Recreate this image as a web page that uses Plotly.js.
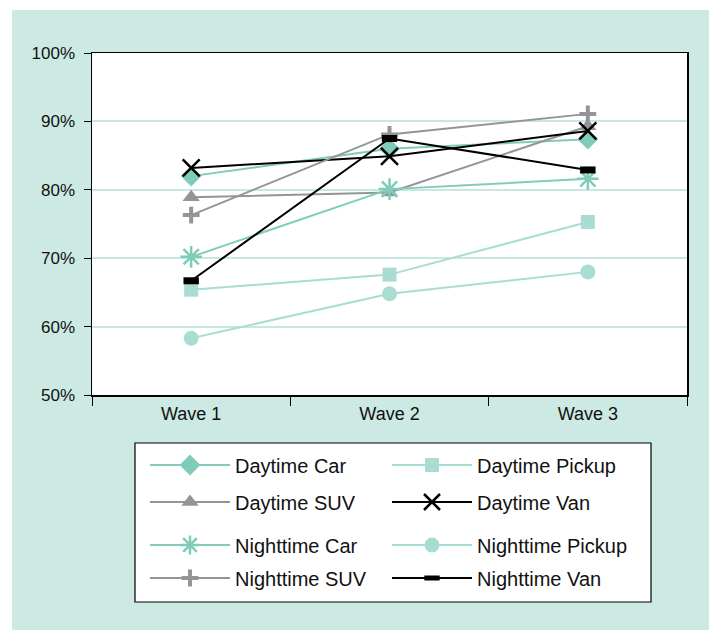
<!DOCTYPE html>
<html>
<head>
<meta charset="utf-8">
<script src="https://cdn.plot.ly/plotly-3.0.1.min.js"></script>
<style>
  html, body { margin: 0; padding: 0; background: #ffffff; }
  #chart { position: absolute; left: 12px; top: 10px; width: 697px; height: 620px; }
</style>
</head>
<body>
<div id="chart"></div>
<script>
// ---- data ----
var waves = ['Wave 1', 'Wave 2', 'Wave 3'];
var daytimeCar      = [82.0, 86.0, 87.4];
var daytimePickup   = [65.4, 67.6, 75.3];
var daytimeSUV      = [78.9, 79.6, 89.3];
var daytimeVan      = [83.2, 84.9, 88.6];
var nighttimeCar    = [70.2, 80.1, 81.6];
var nighttimePickup = [58.3, 64.8, 68.0];
var nighttimeSUV    = [76.3, 88.1, 91.1];
var nighttimeVan    = [66.7, 87.5, 82.9];
var yTickValues = [50, 60, 70, 80, 90, 100];
var yTickLabels = ['50%', '60%', '70%', '80%', '90%', '100%'];

// ---- styles ----
var TEAL = '#7fccba', LIGHT = '#a9ddd3', GRAY = '#939598', BLACK = '#000000';
var FONT = 'Liberation Sans, Arial, sans-serif';

function tr(name, y, color, symbol, size, lw, legendId) {
  return {
    type: 'scatter', mode: 'lines+markers', name: name, x: waves, y: y,
    line: {color: color, width: 2},
    marker: {symbol: symbol, size: size, color: color, line: {color: color, width: lw}},
    legend: legendId, hoverinfo: 'x+y+name'
  };
}

var traces = [
  tr('Daytime Car', daytimeCar, TEAL, 'diamond', 16, 0, 'legend'),
  tr('Daytime Pickup', daytimePickup, LIGHT, 'square', 14, 0, 'legend2'),
  tr('Daytime SUV', daytimeSUV, GRAY, 'triangle-up', 15, 0, 'legend3'),
  tr('Daytime Van', daytimeVan, BLACK, 'x-thin-open', 17, 2.5, 'legend4'),
  tr('Nighttime Car', nighttimeCar, TEAL, 'asterisk-open', 18, 2.5, 'legend5'),
  tr('Nighttime Pickup', nighttimePickup, LIGHT, 'circle', 15, 0, 'legend6'),
  tr('Nighttime SUV', nighttimeSUV, GRAY, 'cross-thin-open', 12, 4, 'legend7'),
  tr('Nighttime Van', nighttimeVan, BLACK, 'line-ew-open', 11, 7, 'legend8')
];

// plot area in div px: x 80..675, y 43..385
function px(xd) { return (xd - 80) / 595; }
function py(yd) { return (385 - yd) / 342; }

function leg(xPage, yPage) {
  return {
    x: px(xPage - 12), y: py(yPage - 10), xanchor: 'left', yanchor: 'middle',
    bgcolor: 'rgba(0,0,0,0)', borderwidth: 0, itemwidth: 80,
    font: {family: FONT, size: 20, color: '#111'}
  };
}
var col1 = 145, col2 = 387;
var rows = [465, 502, 545, 578];

var layout = {
  width: 697, height: 620,
  margin: {l: 80, r: 22, t: 43, b: 235},
  paper_bgcolor: '#cce9e4', plot_bgcolor: '#ffffff',
  font: {family: FONT, color: '#111'},
  showlegend: true,
  xaxis: {
    type: 'category', range: [-0.5, 2.5], tickson: 'boundaries',
    ticks: 'outside', ticklen: 9, tickcolor: '#000', tickwidth: 1, ticklabelstandoff: 2,
    showline: true, linecolor: '#000', linewidth: 1.5, mirror: true,
    showgrid: false, tickfont: {family: FONT, size: 18, color: '#111'}
  },
  yaxis: {
    range: [50, 100], tickmode: 'array', tickvals: yTickValues, ticktext: yTickLabels,
    ticks: 'outside', ticklen: 7, tickcolor: '#000', tickwidth: 1, ticklabelstandoff: 5,
    showline: true, linecolor: '#000', linewidth: 1.5, mirror: true,
    showgrid: true, gridcolor: '#c6e8e1', gridwidth: 2, zeroline: false,
    tickfont: {family: FONT, size: 17, color: '#111'}
  },
  legend:  leg(col1, rows[0]),
  legend2: leg(col2, rows[0]),
  legend3: leg(col1, rows[1]),
  legend4: leg(col2, rows[1]),
  legend5: leg(col1, rows[2]),
  legend6: leg(col2, rows[2]),
  legend7: leg(col1, rows[3]),
  legend8: leg(col2, rows[3]),
  shapes: [{
    type: 'rect', xref: 'paper', yref: 'paper', layer: 'below',
    x0: px(135 - 12), x1: px(651 - 12), y0: py(602 - 10), y1: py(443 - 10),
    fillcolor: '#ffffff', line: {color: '#000', width: 1.2}
  }]
};

Plotly.newPlot('chart', traces, layout, {displayModeBar: false, staticPlot: true});
</script>
</body>
</html>
